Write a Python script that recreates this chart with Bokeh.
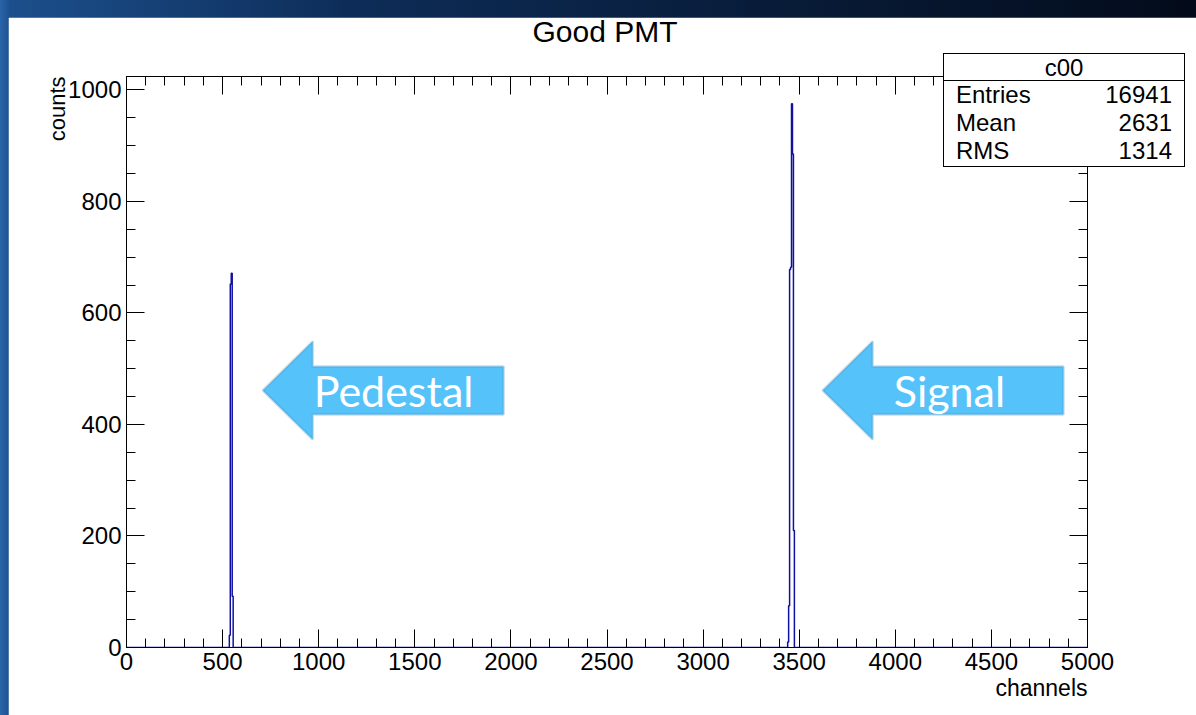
import numpy as np
from bokeh.plotting import figure
from bokeh.models import (Label, PolyAnnotation, LinearAxis, Title, Div,
                          SingleIntervalTicker, Range1d, CustomJSTickFormatter)
from bokeh.layouts import column
from bokeh.embed import file_html
from bokeh.resources import INLINE

# ---------------- data ----------------
title_text = "Good PMT"
x_label = "channels"
y_label = "counts"
bin_width = 5
pedestal_bins = [535, 540, 545, 550]
pedestal_counts = [22, 652, 671, 92]
signal_bins = [3440, 3445, 3450, 3455, 3460, 3465, 3470]
signal_counts = [10, 75, 678, 682, 975, 885, 210]
stats_title = "c00"
stats_names = ["Entries", "Mean", "RMS"]
stats_values = ["16941", "2631", "1314"]
x_min, x_max = 0, 5000
y_min, y_max = 0, 1024

FONT = "Liberation Sans"

# build histogram outline (step) from the bins
xs = [x_min]
ys = [0]
for bins, counts in ((pedestal_bins, pedestal_counts), (signal_bins, signal_counts)):
    xs += list(bins) + [bins[-1] + bin_width]
    ys += list(counts) + [0]
xs.append(x_max)
ys.append(0)

p = figure(width=1188, height=698, x_range=Range1d(x_min, x_max), y_range=Range1d(y_min, y_max),
           output_backend="svg", toolbar_location=None, title=None,
           min_border_left=118, min_border_right=109, min_border_top=59, min_border_bottom=68)
p.margin = (17, 0, 0, 8)
p.background_fill_color = "white"
p.border_fill_color = "white"
p.outline_line_color = "black"
p.outline_line_width = 1
p.xgrid.visible = False
p.ygrid.visible = False

def style_axis(ax, interval, minor, labels=True):
    ax.ticker = SingleIntervalTicker(interval=interval, num_minor_ticks=minor)
    ax.axis_line_color = "black"
    ax.major_tick_line_color = "black"
    ax.minor_tick_line_color = "black"
    ax.major_tick_in = 18
    ax.major_tick_out = 0
    ax.minor_tick_in = 9
    ax.minor_tick_out = 0
    ax.major_label_text_font = FONT
    ax.major_label_text_font_size = "24px"
    ax.major_label_text_color = "black"
    ax.major_label_standoff = 5
    if not labels:
        ax.formatter = CustomJSTickFormatter(code="return '';")
        ax.major_label_standoff = 0

style_axis(p.xaxis[0], 500, 5)
style_axis(p.yaxis[0], 200, 4)
top_ax = LinearAxis()
style_axis(top_ax, 500, 5, labels=False)
p.add_layout(top_ax, "above")
right_ax = LinearAxis()
style_axis(right_ax, 200, 4, labels=False)
p.add_layout(right_ax, "right")

p.add_layout(Title(text=x_label, align="right", text_font=FONT, text_font_size="23px",
                   text_font_style="normal", text_color="black", standoff=0), "below")
p.add_layout(Title(text=y_label, align="right", text_font=FONT, text_font_size="22px",
                   text_font_style="normal", text_color="black", standoff=-9), "left")

p.step(x=xs, y=ys, mode="after", line_color="#10109e", line_width=1.5)

# arrows
arrow_fill = "#56c2fa"
arrow_line = "#3c8fc2"
def arrow(tip_x, head_x, end_x, yc, head_h, shaft_h):
    return PolyAnnotation(
        xs=[tip_x, head_x, head_x, end_x, end_x, head_x, head_x],
        ys=[yc, yc + head_h, yc + shaft_h, yc + shaft_h, yc - shaft_h, yc - shaft_h, yc - head_h],
        fill_color=arrow_fill, fill_alpha=1, line_color=arrow_line, line_width=2.5)

p.add_layout(arrow(709, 969, 1962, 461, 88, 43))
p.add_layout(arrow(3622, 3882, 4875, 461, 88, 43))
for txt, xx in (("Pedestal", 974), ("Signal", 3992)):
    p.add_layout(Label(x=xx, y=461, text=txt, text_color="white", text_font="Lato",
                       text_font_size="43px", text_baseline="middle"))

# title (ROOT draws it near the top edge of the pad)
title_div = Div(text=f'<div style="font-family:\'Liberation Sans\';font-size:30px;line-height:30px;'
                     f'color:black;text-align:center;width:300px">{title_text}</div>',
                width=300, height=30,
                styles={"position": "absolute", "left": "455px", "top": "17px", "margin": "0"})

# statistics box (HTML overlay at the top-right, as ROOT draws it)
rows_html = "".join(
    f'<div style="display:flex;justify-content:space-between;padding:0 12px;height:28px">'
    f'<span>{nm}</span><span>{val}</span></div>'
    for nm, val in zip(stats_names, stats_values))
stats_html = (
    '<div style="box-sizing:border-box;width:242px;height:114px;border:1px solid black;'
    "background:white;font-family:'Liberation Sans';font-size:24px;color:black;line-height:28px\">"
    f'<div style="text-align:center;height:27px;border-bottom:1px solid black">{stats_title}</div>'
    f'{rows_html}</div>')
stats = Div(text=stats_html, width=242, height=114,
            styles={"position": "absolute", "left": "943px", "top": "53px", "margin": "0"})

layout = column(p, title_div, stats, width=1196, height=715,
                styles={"position": "relative",
                        "background": "linear-gradient(90deg, #2a66aa 0px, #1c4f8c 10px, #0d2c57 30%, #030b1a 100%)"})

open("out.html", "w").write(file_html(layout, INLINE))
